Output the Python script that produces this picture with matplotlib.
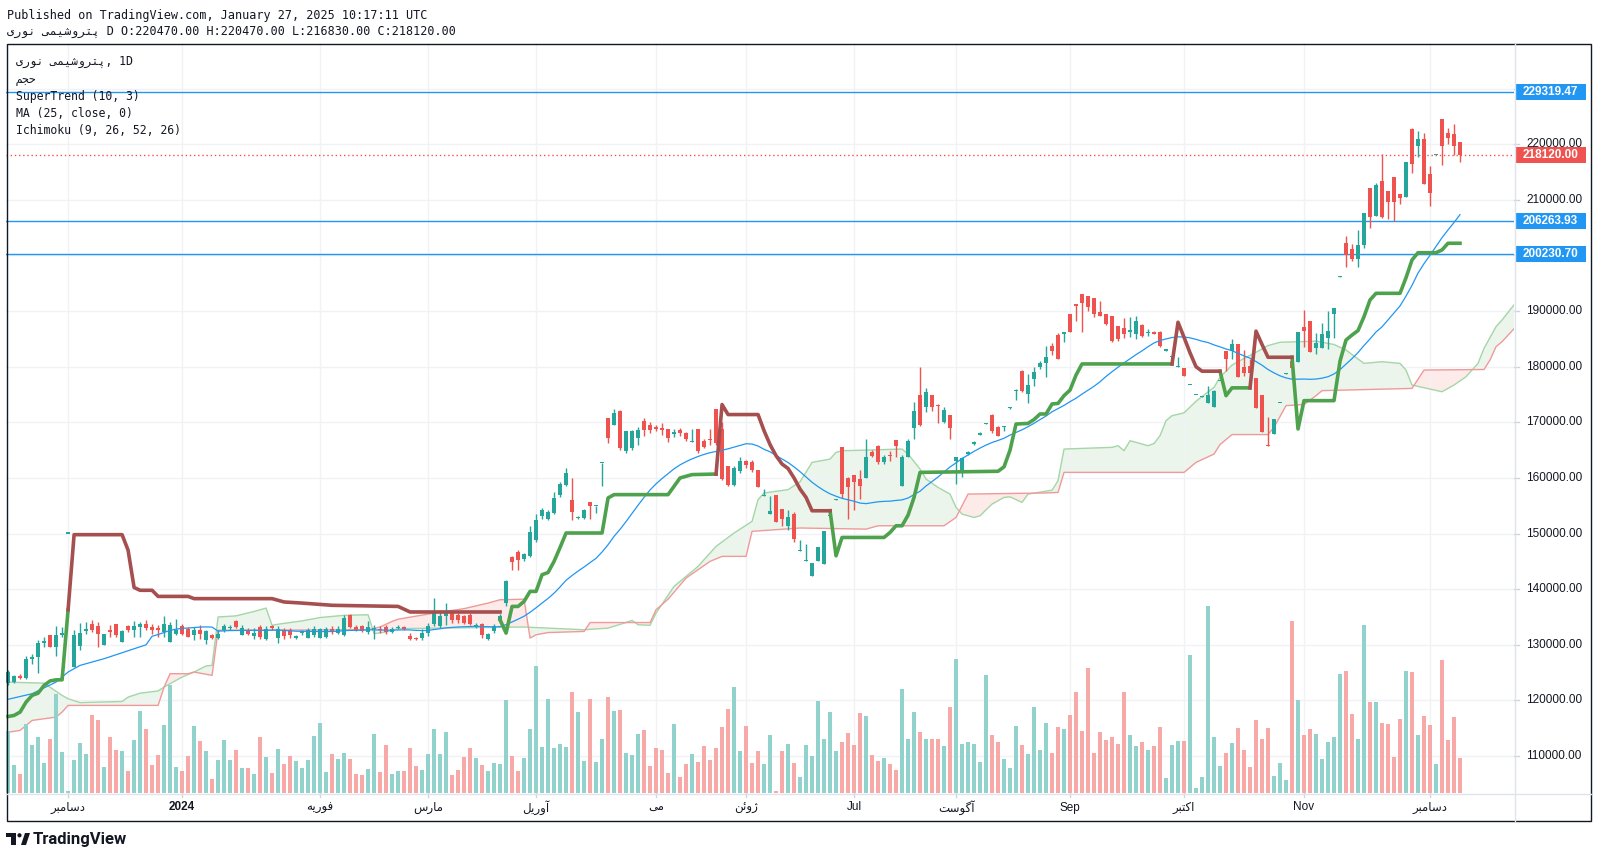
import numpy as np
import pandas as pd
import matplotlib
matplotlib.use("Agg")
import matplotlib.pyplot as plt
import matplotlib.transforms as mtransforms
from matplotlib.patches import Rectangle, Polygon, Circle

# ---- daily candles, prices in thousands ----
opens = [
    123.1, 123.3, 124.3, 124.0, 127.5, 127.8, 130.4, 131.7, 129.6, 131.8,
    150.0, 126.0, 129.8, 132.5, 133.7, 133.3, 129.9, 132.6, 133.7, 130.5,
    133.3, 132.6, 133.2, 133.7, 133.2, 133.0, 132.3, 130.5, 131.9, 133.3,
    132.8, 131.7, 132.6, 130.8, 131.7, 131.3, 132.7, 133.0, 134.2, 131.8,
    132.6, 131.6, 133.2, 131.1, 133.3, 131.3, 132.7, 132.7, 131.2, 132.1,
    131.3, 131.7, 131.3, 131.4, 132.9, 132.2, 131.8, 135.3, 133.2, 133.3,
    132.3, 132.9, 132.9, 133.2, 132.3, 133.0, 133.2, 131.5, 131.1, 131.2,
    132.1, 133.8, 133.4, 135.1, 135.7, 135.3, 135.1, 135.4, 133.4, 133.8,
    131.0, 132.4, 134.2, 137.6, 145.8, 146.7, 145.4, 146.0, 148.9, 153.2,
    152.7, 153.7, 156.9, 158.8, 156.1, 152.8, 152.8, 155.6, 154.9, 162.6,
    170.8, 169.6, 172.1, 164.9, 165.3, 167.1, 170.3, 169.6, 169.1, 168.8,
    168.8, 167.9, 168.7, 168.0, 166.4, 168.8, 166.7, 167.0, 172.4, 168.8,
    162.1, 158.8, 161.2, 163.0, 162.8, 161.5, 156.8, 153.5, 156.9, 154.5,
    151.3, 153.6, 146.9, 145.1, 142.3, 145.1, 144.6, 153.2, 156.1, 165.6,
    160.0, 160.6, 159.8, 160.0, 164.7, 165.8, 162.8, 164.1, 166.8, 158.5,
    163.8, 168.9, 175.0, 172.8, 175.0, 173.2, 170.0, 171.4, 163.1, 161.3,
    164.3, 166.1, 167.8, 169.7, 171.4, 169.2, 169.2, 172.6, 175.7, 179.3,
    175.1, 177.8, 179.9, 180.6, 183.8, 185.7, 185.9, 189.4, 191.2, 193.1,
    192.7, 192.4, 189.8, 189.4, 189.2, 187.3, 187.0, 186.2, 185.8, 187.5,
    186.1, 186.3, 186.3, 182.9, 181.7, 179.9, 179.8, 176.7, 174.9, 174.6,
    173.4, 172.8, 177.4, 182.9, 182.8, 184.0, 180.0, 180.2, 178.0, 175.0,
    165.8, 167.9, 173.4, 178.7, 181.1, 180.8, 187.1, 188.3, 183.3, 183.3,
    185.1, 189.5, 196.2, 202.2, 201.2, 199.4, 201.9, 212.1, 207.1, 213.4,
    211.6, 214.1, 211.0, 210.6, 222.7, 219.7, 220.9, 214.6, 218.0, 224.5,
    222.0, 221.9, 220.47,
]
highs = [
    125.5, 124.6, 124.7, 127.9, 128.4, 130.8, 131.4, 131.7, 133.3, 133.2,
    150.0, 132.6, 134.0, 134.1, 134.4, 134.1, 132.0, 133.5, 133.7, 132.6,
    133.5, 134.3, 134.1, 134.4, 133.8, 133.5, 135.1, 134.1, 134.6, 133.7,
    133.2, 133.2, 133.5, 132.6, 132.0, 132.6, 133.8, 133.6, 134.4, 133.5,
    133.0, 133.0, 133.5, 133.3, 133.6, 133.3, 133.0, 133.0, 131.8, 132.7,
    133.0, 133.3, 133.1, 133.2, 133.3, 133.3, 135.3, 135.5, 133.5, 133.5,
    134.3, 133.5, 133.3, 133.5, 133.2, 133.5, 133.4, 132.1, 131.4, 132.8,
    134.0, 138.4, 136.2, 137.6, 136.0, 135.8, 135.4, 135.7, 134.0, 134.0,
    132.2, 133.7, 135.5, 141.7, 146.0, 147.0, 146.5, 151.4, 153.5, 154.6,
    154.3, 157.4, 159.2, 161.8, 160.0, 153.1, 154.5, 155.7, 155.0, 162.7,
    170.8, 172.4, 172.2, 168.5, 168.7, 169.2, 170.8, 170.0, 169.5, 169.8,
    168.8, 168.8, 169.0, 168.3, 168.8, 168.8, 167.0, 168.8, 172.4, 170.0,
    162.2, 162.2, 163.7, 163.3, 163.3, 161.5, 158.0, 156.8, 156.9, 154.5,
    154.3, 153.8, 148.8, 148.1, 144.7, 147.6, 150.5, 153.4, 156.3, 165.6,
    160.2, 160.6, 161.4, 167.0, 165.0, 165.9, 164.1, 164.8, 166.9, 164.1,
    167.0, 173.6, 180.0, 176.1, 175.0, 173.3, 172.8, 171.4, 163.8, 163.8,
    164.8, 166.6, 168.2, 169.9, 171.5, 169.3, 169.4, 172.8, 176.0, 179.4,
    178.7, 179.9, 181.0, 183.7, 184.3, 186.0, 186.3, 189.4, 191.2, 193.1,
    192.7, 192.4, 191.8, 189.5, 189.2, 187.3, 188.8, 189.0, 189.2, 187.6,
    186.8, 186.4, 186.4, 183.0, 181.9, 181.7, 179.8, 176.8, 175.0, 174.7,
    176.6, 175.8, 177.5, 182.9, 185.0, 184.0, 183.0, 181.4, 178.0, 175.0,
    170.9, 170.6, 173.5, 178.8, 181.1, 186.3, 190.2, 188.3, 186.0, 187.8,
    190.0, 190.6, 196.3, 203.5, 202.0, 204.6, 207.6, 212.1, 213.0, 218.2,
    211.6, 214.1, 211.0, 216.8, 222.9, 222.3, 222.0, 216.1, 218.1, 224.5,
    222.9, 223.7, 220.47,
]
lows = [
    122.8, 123.1, 123.9, 123.9, 126.6, 124.9, 129.6, 129.6, 127.9, 131.4,
    150.0, 126.0, 129.0, 132.0, 132.3, 129.6, 129.9, 131.4, 131.4, 130.5,
    132.3, 131.4, 131.4, 132.6, 132.0, 131.4, 131.4, 130.5, 131.7, 131.7,
    131.4, 130.8, 131.0, 130.2, 131.0, 131.0, 132.3, 132.7, 133.0, 131.7,
    131.7, 131.0, 131.0, 130.8, 132.6, 130.4, 131.0, 131.2, 131.0, 131.8,
    131.2, 131.4, 131.2, 131.2, 132.0, 131.9, 131.6, 133.0, 132.5, 132.3,
    132.0, 131.0, 132.2, 132.0, 132.1, 132.9, 132.6, 130.8, 130.8, 130.8,
    131.5, 133.3, 133.0, 133.6, 134.0, 134.0, 133.7, 133.5, 133.0, 131.3,
    130.8, 132.2, 133.9, 136.9, 143.5, 143.5, 145.1, 145.8, 148.5, 152.6,
    152.5, 153.5, 156.5, 158.5, 152.5, 152.7, 152.7, 152.6, 153.7, 158.6,
    166.3, 169.5, 165.0, 164.5, 165.0, 165.9, 167.6, 168.0, 168.5, 167.8,
    166.5, 167.4, 167.6, 166.6, 166.4, 164.5, 165.3, 166.0, 166.0, 159.6,
    158.5, 158.5, 160.9, 161.8, 161.0, 158.3, 156.8, 153.5, 152.0, 151.3,
    150.7, 148.5, 146.9, 145.1, 142.3, 145.0, 144.6, 153.1, 156.0, 156.4,
    152.6, 154.2, 156.2, 160.0, 163.7, 162.5, 162.5, 163.1, 163.7, 158.5,
    163.8, 167.0, 169.4, 171.8, 172.0, 169.8, 169.8, 167.0, 158.9, 160.1,
    164.2, 166.0, 167.7, 169.7, 168.0, 167.5, 168.5, 172.4, 174.1, 175.5,
    173.4, 176.6, 179.6, 178.2, 182.1, 181.3, 184.4, 186.2, 188.2, 186.2,
    190.0, 189.0, 189.2, 187.5, 184.5, 184.6, 185.2, 185.3, 185.0, 185.3,
    185.6, 185.8, 183.5, 182.9, 180.5, 179.9, 178.3, 176.7, 174.9, 174.6,
    173.4, 172.8, 177.4, 179.3, 181.4, 178.1, 178.4, 178.8, 172.5, 168.2,
    165.7, 167.9, 173.4, 178.7, 177.8, 180.8, 183.5, 182.6, 182.2, 183.3,
    183.2, 185.1, 196.2, 198.0, 199.1, 198.0, 201.3, 205.0, 207.1, 206.7,
    206.6, 206.2, 209.2, 210.6, 214.9, 217.8, 212.8, 208.9, 218.0, 216.3,
    220.0, 218.1, 216.83,
]
closes = [
    125.1, 124.3, 124.0, 127.5, 127.8, 130.4, 130.6, 129.6, 131.8, 132.2,
    150.0, 131.8, 132.2, 132.9, 132.6, 131.9, 131.9, 132.3, 131.7, 132.4,
    132.6, 133.3, 133.8, 133.0, 132.7, 132.6, 133.8, 133.5, 132.7, 132.0,
    131.4, 132.6, 132.0, 132.4, 131.3, 132.0, 133.3, 133.2, 133.2, 133.1,
    132.0, 132.2, 131.4, 132.9, 133.0, 132.9, 131.6, 131.7, 131.6, 132.4,
    132.6, 132.9, 132.9, 132.8, 132.3, 132.9, 134.9, 133.2, 132.7, 132.5,
    133.2, 133.0, 132.6, 132.3, 132.9, 133.2, 132.8, 131.0, 131.0, 132.2,
    133.3, 135.7, 135.2, 135.7, 134.4, 134.5, 134.0, 133.8, 133.6, 131.7,
    132.0, 133.4, 135.2, 141.4, 144.8, 145.3, 146.4, 150.3, 152.5, 154.3,
    153.9, 156.4, 159.0, 160.9, 153.8, 152.9, 154.3, 155.0, 155.0, 162.7,
    167.2, 171.7, 165.3, 168.5, 168.5, 168.7, 168.7, 168.6, 168.8, 168.7,
    167.2, 168.2, 168.0, 167.0, 166.7, 164.8, 165.6, 166.8, 166.3, 159.8,
    158.8, 161.8, 163.0, 162.4, 161.4, 158.3, 156.9, 154.1, 152.0, 152.7,
    152.9, 149.0, 147.0, 145.2, 144.7, 147.6, 150.5, 153.3, 156.2, 157.1,
    158.3, 159.2, 158.6, 163.8, 164.0, 162.8, 163.8, 163.9, 165.7, 163.8,
    166.7, 172.1, 169.5, 175.5, 172.8, 173.0, 172.2, 168.9, 163.8, 163.5,
    164.6, 166.4, 168.1, 169.8, 168.5, 167.5, 169.3, 172.7, 175.9, 175.6,
    176.7, 179.1, 180.6, 181.8, 182.8, 181.3, 186.3, 186.2, 191.0, 191.4,
    190.8, 189.5, 189.2, 187.7, 184.7, 185.0, 185.8, 186.6, 188.3, 185.6,
    186.2, 185.9, 183.8, 183.0, 181.8, 180.0, 178.3, 176.8, 175.0, 174.7,
    175.0, 175.7, 177.5, 181.4, 184.0, 178.1, 178.8, 178.8, 172.5, 168.2,
    165.7, 170.6, 173.5, 178.8, 179.8, 186.3, 186.5, 182.6, 184.2, 185.8,
    186.5, 190.6, 196.3, 200.0, 199.4, 201.9, 207.6, 207.0, 212.7, 206.9,
    209.7, 209.7, 210.4, 216.8, 216.4, 220.9, 212.8, 211.3, 218.1, 219.6,
    221.2, 219.7, 218.12,
]
# volume bar heights (relative units)
volumes = [
    62, 28, 19, 69, 48, 56, 30, 54, 99, 41,
    2, 33, 50, 39, 78, 73, 26, 56, 43, 42,
    22, 53, 82, 64, 28, 38, 68, 108, 26, 22,
    37, 67, 52, 42, 14, 33, 53, 33, 43, 25,
    25, 19, 56, 36, 20, 44, 29, 37, 32, 25,
    33, 57, 70, 21, 39, 34, 40, 34, 19, 18,
    24, 59, 21, 48, 19, 22, 22, 45, 27, 23,
    39, 64, 39, 61, 18, 23, 36, 45, 35, 28,
    22, 30, 29, 93, 37, 22, 35, 64, 127, 46,
    94, 45, 49, 46, 101, 81, 32, 94, 31, 54,
    96, 82, 83, 40, 38, 59, 63, 27, 45, 43,
    20, 69, 16, 29, 39, 31, 47, 33, 45, 66,
    84, 106, 42, 67, 30, 42, 29, 58, 2, 42,
    49, 30, 16, 48, 37, 92, 54, 81, 42, 51,
    60, 48, 80, 77, 38, 32, 35, 29, 23, 104,
    54, 81, 61, 54, 54, 54, 47, 86, 134, 49,
    51, 49, 31, 118, 58, 51, 34, 25, 67, 48,
    39, 86, 43, 70, 40, 66, 64, 78, 101, 62,
    125, 40, 61, 53, 56, 49, 101, 58, 47, 51,
    43, 47, 66, 15, 48, 52, 52, 138, 5, 16,
    187, 56, 27, 40, 50, 65, 43, 26, 73, 54,
    65, 17, 30, 13, 172, 93, 58, 64, 59, 34,
    51, 56, 119, 122, 79, 54, 168, 91, 91, 70,
    69, 36, 74, 122, 121, 58, 77, 68, 29, 133,
    53, 76, 35,
]

# SuperTrend (10, 3) line, read as (bar, price) vertices
st_up = [
    [(0, 117.1), (1, 117.3), (2, 117.9), (3, 119.7), (4, 120.9), (5, 121.3), (6, 122.7), (7, 123.5),
     (8, 123.7), (9, 123.7), (10, 136.3)],
    [(82, 134.5), (83, 132.1), (84, 136.9), (85, 136.9), (86, 137.8), (87, 139.6), (88, 139.6), (89, 142.6),
     (90, 143.0), (91, 145.0), (92, 147.5), (93, 150.1), (99, 150.1), (100, 156.4), (101, 157.0), (110, 157.0),
     (111, 158.5), (112, 160.0), (114, 160.6), (118, 160.7)],
    [(137, 154.1), (138, 146.0), (139, 149.3), (146, 149.3), (147, 150.2), (148, 151.4), (149, 151.4),
     (150, 153.3), (151, 156.5), (152, 161.0), (165, 161.2), (166, 162.0), (167, 165.0), (168, 169.7),
     (170, 169.8), (171, 170.5), (172, 171.5), (173, 171.5), (174, 173.3), (175, 173.4), (176, 174.8),
     (177, 175.8), (178, 178.5), (179, 180.5), (194, 180.5)],
    [(202, 179.2), (203, 174.8), (204, 176.2), (207, 176.2)],
    [(214, 181.7), (215, 168.8), (216, 173.9), (221, 173.9), (222, 181.0), (223, 184.8), (224, 185.7),
     (225, 186.5), (226, 189.0), (227, 192.0), (228, 193.2), (232, 193.2), (233, 196.0), (234, 199.2),
     (235, 200.5), (238, 200.5), (239, 201.0), (240, 202.2), (242, 202.2)],
]
st_dn = [
    [(10, 136.3), (11, 149.8), (19, 149.8), (20, 147.0), (21, 140.3), (22, 139.8), (24, 139.8), (25, 138.7),
     (30, 138.7), (31, 138.3), (44, 138.3), (46, 137.7), (49, 137.5), (54, 137.1), (65, 136.9), (67, 135.9),
     (82, 135.9)],
    [(118, 160.7), (119, 173.2), (120, 171.4), (125, 171.4), (126, 168.5), (127, 166.0), (128, 164.0),
     (129, 162.5), (130, 161.7), (131, 160.0), (132, 158.0), (133, 156.5), (134, 154.1), (137, 154.1)],
    [(194, 180.5), (195, 188.0), (196, 185.3), (197, 182.5), (198, 180.0), (199, 179.2), (202, 179.2)],
    [(207, 176.2), (208, 186.4), (209, 184.0), (210, 181.7), (214, 181.7)],
]

# Ichimoku lead lines (cloud), read as (bar, price) vertices
span_a = [
    (-0.5, 123.3), (6, 123.1), (9, 120.9), (10, 120.3), (12, 119.6), (15, 119.7), (19, 119.8), (20, 120.6),
    (22, 121.3), (25, 121.7), (26, 122.4), (29, 124.2), (31, 125.1), (33, 126.2), (34, 126.3), (35, 135.0),
    (38, 135.2), (41, 136.0), (43, 136.6), (44, 133.5), (45, 133.7), (49, 134.3), (52, 134.9), (56, 135.3),
    (60, 135.4), (61, 132.0), (63, 132.3), (65, 132.9), (86, 133.2), (90, 133.0), (96, 132.7), (100, 133.0),
    (103, 134.0), (104, 134.4), (105, 133.6), (107, 133.5), (108, 135.7), (111, 140.5), (115, 144.1),
    (118, 147.7), (121, 150.1), (124, 152.2), (125, 156.1), (126, 157.3), (130, 157.9), (132, 159.3),
    (134, 162.8), (137, 163.4), (138, 164.6), (139, 164.9), (143, 165.0), (149, 165.2), (150, 164.3),
    (152, 161.6), (153, 159.8), (155, 158.3), (157, 157.1), (158, 154.7), (159, 153.5), (161, 152.9),
    (162, 153.2), (164, 155.3), (166, 156.5), (167, 156.6), (169, 155.6), (170, 157.1), (174, 157.8),
    (175, 159.5), (176, 165.2), (184, 165.5), (185, 165.8), (186, 164.9), (187, 166.7), (190, 165.8),
    (191, 166.2), (192, 167.6), (193, 170.3), (194, 171.2), (196, 171.7), (198, 173.8), (201, 176.3),
    (202, 178.1), (204, 180.3), (206, 181.5), (208, 182.6), (210, 183.8), (212, 184.4), (218, 184.6),
    (221, 184.0), (223, 183.0), (226, 180.6), (229, 180.9), (232, 180.6), (233, 179.4), (234, 176.7),
    (239, 175.5), (241, 176.7), (243, 178.2), (245, 180.6), (246, 183.3), (248, 187.2), (249, 188.4),
    (251.5, 191.8),
]
span_b = [
    (-0.5, 114.2), (2, 114.6), (4, 116.4), (8, 117.0), (9, 117.9), (10, 119.1), (25, 119.1), (26, 122.4),
    (27, 124.8), (30, 124.8), (31, 125.1), (34, 124.5), (35, 132.6), (60, 132.7), (62, 133.2), (64, 134.2),
    (65, 134.6), (71, 135.7), (76, 136.5), (80, 137.5), (82, 138.1), (86, 138.2), (87, 131.2), (88, 131.8),
    (90, 132.2), (96, 132.4), (97, 134.0), (107, 134.0), (108, 136.3), (110, 138.2), (113, 142.0),
    (117, 145.0), (119, 145.9), (123, 145.9), (124, 150.4), (132, 151.0), (143, 150.8), (145, 151.4),
    (156, 151.4), (158, 152.9), (160, 157.1), (173, 157.3), (175, 157.4), (176, 161.0), (196, 161.0),
    (198, 162.8), (201, 164.3), (202, 166.0), (204, 167.8), (210, 167.8), (211, 169.1), (213, 173.0),
    (216, 173.2), (218, 174.8), (219, 175.7), (234, 176.1), (236, 179.4), (246, 179.5), (247, 181.2),
    (248, 183.6), (249, 184.5), (251.5, 187.4),
]

# MA(25) for the first bars (needs history before the window)
ma_head_x = [0, 4, 8, 10, 12, 16, 21, 23]
ma_head_v = [120.2, 121.2, 123.3, 125.1, 126.3, 127.5, 129.3, 130.0]

month_pos = [10, 29, 52, 70, 88, 108, 123, 141, 158, 177, 196, 216, 237]
month_names = ["دسامبر", "2024", "فوریه", "مارس", "آوریل", "می", "ژوئن", "Jul",
               "آگوست", "Sep", "اکتبر", "Nov", "دسامبر"]
price_ticks = list(range(110000, 240000, 10000))
hlines = [229319.47, 206263.93, 200230.70]
last_price = 218120.00
symbol = "پتروشیمی نوری"
vol_title = "حجم"

# ---- minimal Persian shaping (matplotlib has no bidi/shaping) ----
FORMS = {
    'ا': (0xFE8D, 0xFE8E, None, None), 'آ': (0xFE81, 0xFE82, None, None),
    'ب': (0xFE8F, 0xFE90, 0xFE91, 0xFE92), 'پ': (0xFB56, 0xFB57, 0xFB58, 0xFB59),
    'ت': (0xFE95, 0xFE96, 0xFE97, 0xFE98), 'ج': (0xFE9D, 0xFE9E, 0xFE9F, 0xFEA0),
    'ح': (0xFEA1, 0xFEA2, 0xFEA3, 0xFEA4), 'د': (0xFEA9, 0xFEAA, None, None),
    'ر': (0xFEAD, 0xFEAE, None, None), 'ژ': (0xFB8A, 0xFB8B, None, None),
    'س': (0xFEB1, 0xFEB2, 0xFEB3, 0xFEB4), 'ش': (0xFEB5, 0xFEB6, 0xFEB7, 0xFEB8),
    'ف': (0xFED1, 0xFED2, 0xFED3, 0xFED4), 'ک': (0xFB8E, 0xFB8F, 0xFB90, 0xFB91),
    'گ': (0xFB92, 0xFB93, 0xFB94, 0xFB95), 'ل': (0xFEDD, 0xFEDE, 0xFEDF, 0xFEE0),
    'م': (0xFEE1, 0xFEE2, 0xFEE3, 0xFEE4), 'ن': (0xFEE5, 0xFEE6, 0xFEE7, 0xFEE8),
    'ه': (0xFEE9, 0xFEEA, 0xFEEB, 0xFEEC), 'و': (0xFEED, 0xFEEE, None, None),
    'ی': (0xFBFC, 0xFBFD, 0xFBFE, 0xFBFF), 'ئ': (0xFE89, 0xFE8A, 0xFE8B, 0xFE8C),
}


def shape(text):
    if not any(c in FORMS for c in text):
        return text
    out = []
    for k, ch in enumerate(text):
        f = FORMS.get(ch)
        if f is None:
            out.append(ch)
            continue
        prev = text[k - 1] if k > 0 else None
        nxt = text[k + 1] if k + 1 < len(text) else None
        jp = prev in FORMS and FORMS[prev][2] is not None
        jn = nxt in FORMS and f[2] is not None
        if jp and jn:
            c = f[3]
        elif jp:
            c = f[1]
        elif jn:
            c = f[2]
        else:
            c = f[0]
        out.append(chr(c))
    return "".join(reversed(out))


GREEN, RED = "#26a69a", "#ef5350"
TXT = "#131722"
MONO = ["DejaVu Sans Mono", "DejaVu Sans"]
SANS = ["Liberation Sans", "DejaVu Sans"]

N = len(closes)
idx = np.arange(N)
o, h, l, c = (np.array(a) for a in (opens, highs, lows, closes))
up = c >= o

W, H = 1598, 858
fig = plt.figure(figsize=(W / 100, H / 100), dpi=100)
fig.patch.set_facecolor("white")
ax = fig.add_axes([6 / W, 1 - 793 / H, 1508 / W, 750 / H])
YMIN, YMAX = 103.35, 238.21
ax.set_xlim(-0.35, 251)
ax.set_ylim(YMIN, YMAX)
for s in ax.spines.values():
    s.set_visible(False)
ax.set_xticks(month_pos)
ax.set_yticks([t / 1000 for t in price_ticks])
ax.tick_params(length=0, labelleft=False, labelbottom=False)
ax.set_axisbelow(True)
ax.grid(True, color="#f0f2f6", lw=1)

# Ichimoku cloud
xa, ya = zip(*span_a)
xb, yb = zip(*span_b)
xg = np.linspace(-0.5, 251.5, 2500)
ga, gb = np.interp(xg, xa, ya), np.interp(xg, xb, yb)
ax.fill_between(xg, ga, gb, where=ga >= gb, interpolate=True, color="#43a047", alpha=0.1, lw=0, zorder=0.5)
ax.fill_between(xg, ga, gb, where=ga < gb, interpolate=True, color="#f44336", alpha=0.1, lw=0, zorder=0.5)
ax.plot(xa, ya, color="#a5d6a7", lw=1, zorder=0.6)
ax.plot(xb, yb, color="#ef9a9a", lw=1, zorder=0.6)

# volume (bottom pane, own scale)
tv = mtransforms.blended_transform_factory(ax.transData, ax.transAxes)
vcol = np.where(up, "#92d2cc", "#f7a9a7")
ax.bar(idx, np.array(volumes) / 750.0, width=0.8, bottom=0, color=vcol, transform=tv, zorder=1)

# horizontal levels
for v in hlines:
    ax.axhline(v / 1000, color="#2196f3", lw=1, zorder=2)
ax.axhline(last_price / 1000, color=RED, lw=1, ls=(0, (1, 2)), zorder=2)

# candles
ccol = np.where(up, GREEN, RED)
ax.vlines(idx, l, h, colors=ccol, lw=1, zorder=3)
body = np.maximum(np.abs(c - o), 0.2)
ax.bar(idx, body, width=0.7, bottom=np.minimum(o, c), color=ccol, zorder=3.1)

# MA(25)
ma = pd.Series(closes).rolling(25).mean()
ma_x = ma_head_x + list(range(24, N))
ma_y = ma_head_v + list(ma.iloc[24:])
ax.plot(ma_x, ma_y, color="#2196f3", lw=0.9, zorder=4)

# SuperTrend
for seg in st_up:
    sx, sy = zip(*seg)
    ax.plot(sx, sy, color="#4ea24e", lw=2.6, solid_joinstyle="round", zorder=4.5)
for seg in st_dn:
    sx, sy = zip(*seg)
    ax.plot(sx, sy, color="#a54f4f", lw=2.6, solid_joinstyle="round", zorder=4.5)

# price axis (tick labels hidden where a value label sits on top, as on the chart)
tf = mtransforms.blended_transform_factory(fig.transFigure, ax.transData)
px_per_k = 750 / (YMAX - YMIN)
marks = hlines + [last_price]
for t in price_ticks:
    ax.plot([1514 / W, 1519 / W], [t / 1000] * 2, transform=tf, color="#d1d4dc", lw=1,
            clip_on=False, zorder=5)
    if min(abs(t - m) for m in marks) / 1000 * px_per_k < 8:
        continue
    ax.text(1526 / W, t / 1000, f"{t:.2f}", transform=tf, ha="left", va="center",
            fontsize=8.5, family=SANS, color=TXT, clip_on=False, zorder=5)
half = 8 / px_per_k
for v, col in [(hlines[0], "#2196f3"), (last_price, RED), (hlines[1], "#2196f3"), (hlines[2], "#2196f3")]:
    ax.add_patch(Rectangle((1515 / W, v / 1000 - half), 71 / W, 2 * half, transform=tf,
                           fc=col, ec="none", clip_on=False, zorder=6))
    ax.text(1550.5 / W, v / 1000, f"{v:.2f}", transform=tf, ha="center", va="center",
            fontsize=8.5, family=SANS, weight="bold", color="white", clip_on=False, zorder=7)

# time axis
tt = mtransforms.blended_transform_factory(ax.transData, fig.transFigure)
for p, name in zip(month_pos, month_names):
    bold = name.isdigit()
    ax.text(p, 1 - 807.5 / H, shape(name), transform=tt, ha="center", va="center",
            fontsize=8.5, family=SANS, weight="bold" if bold else "normal", color=TXT, clip_on=False)
    ax.plot([p, p], [1 - 793 / H, 1 - 797 / H], transform=tt, color="#d1d4dc", lw=1, clip_on=False)

# overlay in pixel coordinates: frame, header, legend, logo
ov = fig.add_axes([0, 0, 1, 1], zorder=10)
ov.set_xlim(0, W)
ov.set_ylim(H, 0)
ov.axis("off")
ov.patch.set_visible(False)
ov.add_patch(Rectangle((6.5, 43.5), 1584.5, 777.5, fill=False, ec=TXT, lw=1))
ov.plot([1514.5, 1514.5], [44, 821], color="#e0e3eb", lw=1)
ov.plot([7, 1591], [793.5, 793.5], color="#e0e3eb", lw=1)

ov.text(7, 15, "Published on TradingView.com, January 27, 2025 10:17:11 UTC", fontsize=8.5,
        family=MONO, color=TXT, va="center", ha="left")
ov.text(7, 32, shape(symbol) + " D O:220470.00 H:220470.00 L:216830.00 C:218120.00", fontsize=8.5,
        family=MONO, color=TXT, va="center", ha="left")
legend = [shape(symbol) + ", 1D", shape(vol_title), "SuperTrend (10, 3)", "MA (25, close, 0)",
          "Ichimoku (9, 26, 52, 26)"]
for k, line in enumerate(legend):
    ov.text(16, 62 + 17.2 * k, line, fontsize=8.3, family=MONO, color=TXT, va="center", ha="left")

ov.add_patch(Polygon([(6, 833), (16, 833), (16, 845), (11.3, 845), (11.3, 837.3), (6, 837.3)],
                     closed=True, fc=TXT, ec="none"))
ov.add_patch(Circle((19.5, 835.3), 2.1, fc=TXT, ec="none"))
ov.add_patch(Polygon([(21, 845), (25, 833), (30, 833), (26, 845)], closed=True, fc=TXT, ec="none"))
ov.text(33, 839.5, "TradingView", fontsize=12, family=["Roboto", "DejaVu Sans"], weight="bold",
        color=TXT, va="center", ha="left")

fig.savefig("out.png", dpi=100)
